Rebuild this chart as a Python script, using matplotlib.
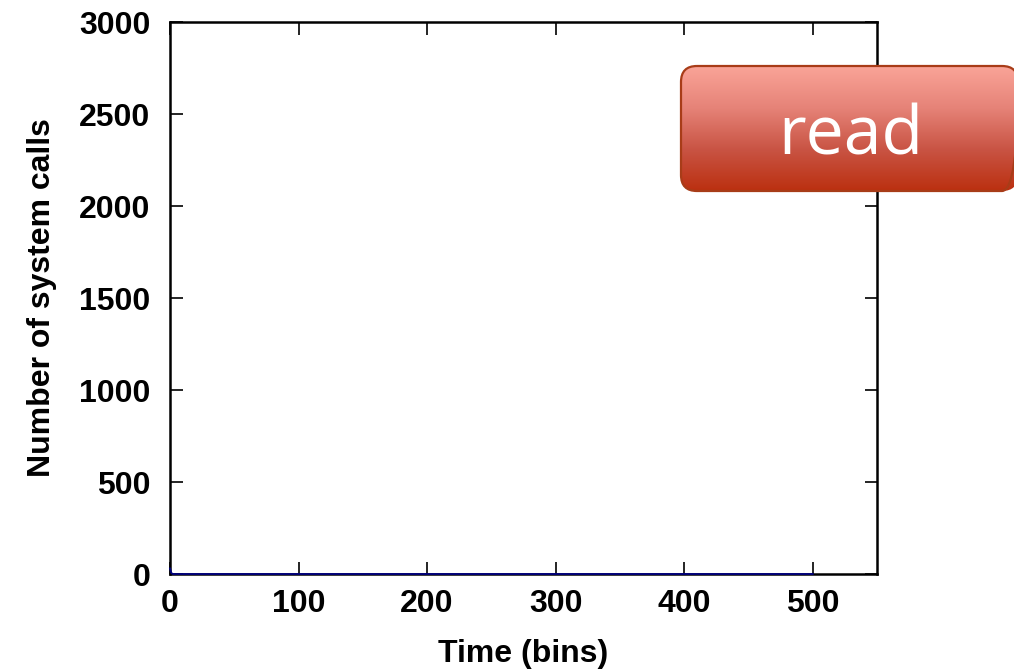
import numpy as np
import matplotlib
matplotlib.use('Agg')
import matplotlib.pyplot as plt
from matplotlib.patches import FancyBboxPatch
from matplotlib.colors import LinearSegmentedColormap

# ── Data ─────────────────────────────────────────────────────────────────────
time_bins = [0, 1, 2, 3, 500]
syscall_counts = [30, 6, 1, 0, 0]

x_ticks = [0, 100, 200, 300, 400, 500]
y_ticks = [0, 500, 1000, 1500, 2000, 2500, 3000]
label_text = 'read'

plt.rcParams['font.family'] = ['Liberation Sans', 'DejaVu Sans']
plt.rcParams['font.weight'] = 'bold'

fig = plt.figure(figsize=(10.14, 6.69), dpi=100)
W, H = 1014, 669
ax = fig.add_axes([170 / W, 1 - 574 / H, (877 - 170) / W, (574 - 22) / H])

ax.plot(time_bins, syscall_counts, color='#000080', lw=1.3, zorder=3, clip_on=False)
ax.set_xlim(0, 550)
ax.set_ylim(0, 3000)
ax.set_xticks(x_ticks)
ax.set_yticks(y_ticks)
ax.tick_params(direction='in', length=9, width=1.2, labelsize=23,
               top=True, right=True)
ax.tick_params(axis='y', pad=14)
ax.tick_params(axis='x', pad=11)
for s in ax.spines.values():
    s.set_linewidth(1.8)
ax.set_xlabel('Time (bins)', fontsize=23, fontweight='bold', labelpad=14)
ax.set_ylabel('Number of system calls', fontsize=23, fontweight='bold', labelpad=16)
for lab in ax.get_xticklabels() + ax.get_yticklabels():
    lab.set_fontweight('bold')

# ── Overlay label box with gradient ──────────────────────────────────────────
ov = fig.add_axes([0, 0, 1, 1], zorder=10)
ov.set_xlim(0, W)
ov.set_ylim(H, 0)
ov.axis('off')

bx0, by0, bx1, by1 = 681, 66, 1018, 191
box = FancyBboxPatch((bx0, by0), bx1 - bx0, by1 - by0,
                     boxstyle='round,pad=0,rounding_size=16',
                     facecolor='none', edgecolor='#a83c18', lw=1.6, zorder=3)
ov.add_patch(box)
cmap = LinearSegmentedColormap.from_list('g', ['#faa498', '#e68378', '#c95444', '#bb3010'])
grad = np.linspace(0, 1, 256).reshape(-1, 1)
im = ov.imshow(grad, cmap=cmap, aspect='auto',
               extent=[bx0, bx1, by1, by0], zorder=2)
im.set_clip_path(box)
ov.text(851, 137, label_text, color='white',
        fontsize=49, fontweight='normal', family=['Open Sans', 'DejaVu Sans'],
        ha='center', va='center', zorder=4)

fig.savefig('out.png', dpi=100)
